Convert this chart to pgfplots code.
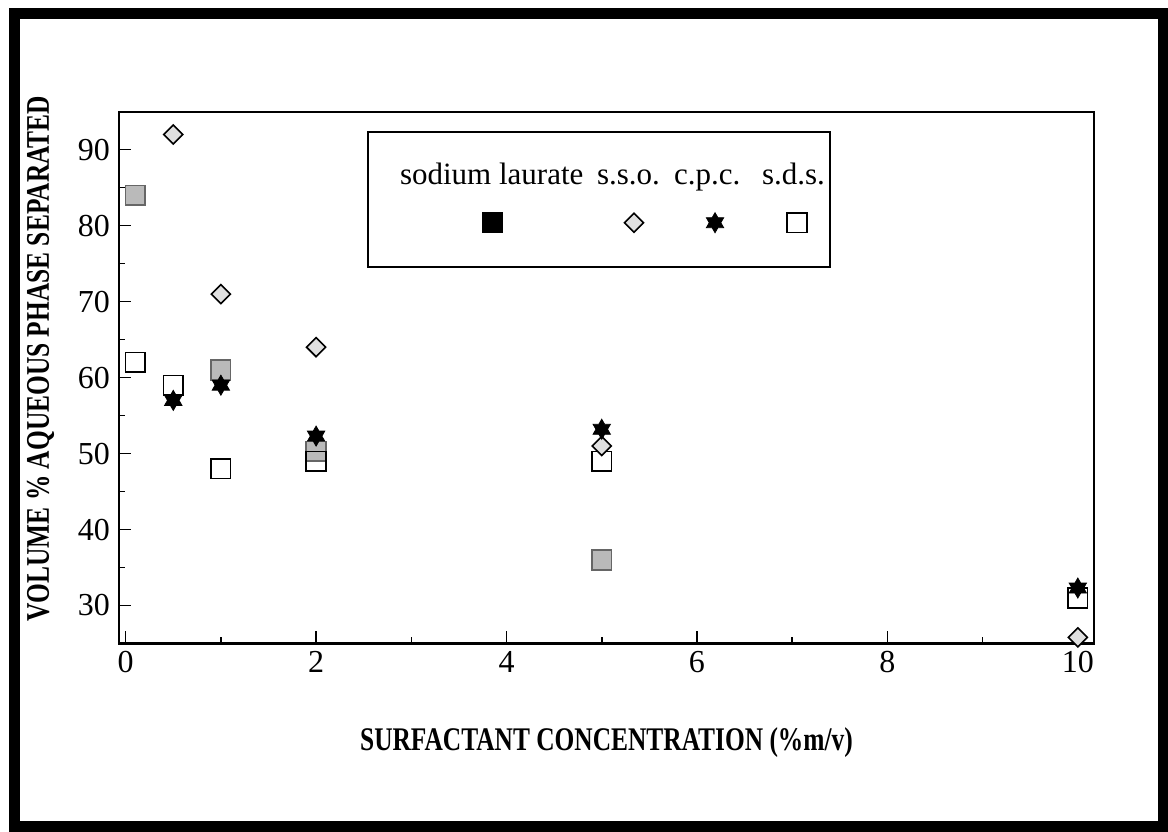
\documentclass[border=0pt]{standalone}
\usepackage{fontspec}
\setmainfont{Liberation Serif}
\newfontfamily\labelfont{Liberation Serif}[FakeStretch=0.77]
\usepackage{pgfplots}
\pgfplotsset{compat=1.18}

% filled six-pointed star
\pgfdeclareplotmark{hexstar}{%
  \pgfpathmoveto{\pgfpointpolar{90}{\pgfplotmarksize}}%
  \pgfpathlineto{\pgfpointpolar{120}{0.57735\pgfplotmarksize}}%
  \pgfpathlineto{\pgfpointpolar{150}{\pgfplotmarksize}}%
  \pgfpathlineto{\pgfpointpolar{180}{0.57735\pgfplotmarksize}}%
  \pgfpathlineto{\pgfpointpolar{210}{\pgfplotmarksize}}%
  \pgfpathlineto{\pgfpointpolar{240}{0.57735\pgfplotmarksize}}%
  \pgfpathlineto{\pgfpointpolar{270}{\pgfplotmarksize}}%
  \pgfpathlineto{\pgfpointpolar{300}{0.57735\pgfplotmarksize}}%
  \pgfpathlineto{\pgfpointpolar{330}{\pgfplotmarksize}}%
  \pgfpathlineto{\pgfpointpolar{0}{0.57735\pgfplotmarksize}}%
  \pgfpathlineto{\pgfpointpolar{30}{\pgfplotmarksize}}%
  \pgfpathlineto{\pgfpointpolar{60}{0.57735\pgfplotmarksize}}%
  \pgfpathclose
  \pgfusepathqfillstroke}

% legend samples sit below the centre of their names
\pgfplotsset{
  legA/.style={legend image code/.code={\path (0pt,0pt); \draw[overlay,##1] plot coordinates {(61.85pt,-11.6pt)};}},
  legB/.style={legend image code/.code={\path (0pt,0pt); \draw[overlay,##1] plot coordinates {(21.5pt,-11.6pt)};}},
  legC/.style={legend image code/.code={\path (0pt,0pt); \draw[overlay,##1] plot coordinates {(24.5pt,-11.6pt)};}},
  legD/.style={legend image code/.code={\path (0pt,0pt); \draw[overlay,##1] plot coordinates {(22.5pt,-11.6pt)};}},
}

\newcommand{\legcell}[3]{\makebox[#1][l]{\hspace*{#2}\rule[-41.5pt]{0pt}{67.5pt}#3}}

\begin{document}
\begin{tikzpicture}[x=1pt,y=1pt]
\useasboundingbox (0,0) rectangle (584,415.5);
\draw[line width=5.5pt] (7.25,2.5) rectangle (581.5,408.5);
\begin{axis}[
  at={(59.5pt,93.75pt)}, anchor=south west,
  scale only axis, width=487.5pt, height=265.9pt,
  xmin=-0.07, xmax=10.17, ymin=25, ymax=95,
  xtick={0,2,...,10}, minor xtick={1,3,5,7,9},
  ytick={30,40,...,90}, minor ytick={35,45,...,85},
  tick align=inside, xtick pos=bottom, ytick pos=left,
  major tick length=6pt, minor tick length=3pt,
  tick style={black, line width=0.8pt},
  axis line style={line width=1.1pt},
  tick label style={font=\fontsize{16}{19}\selectfont},
  /pgf/number format/assume math mode=true,
  xticklabel style={yshift=-0.5pt},
  yticklabel style={xshift=-1pt},
  label style={font=\fontsize{16.5}{19}\selectfont},
  xlabel={\labelfont\bfseries SURFACTANT CONCENTRATION (\%m/v)},
  ylabel={\labelfont\bfseries VOLUME \% AQUEOUS PHASE SEPARATED},
  x label style={at={(axis description cs:0.5,-0.1871)}, anchor=center},
  y label style={at={(axis description cs:-0.0805,0.536)}, anchor=center},
  clip=false,
  legend columns=4,
  legend style={at={(0.2544,0.9637)}, anchor=north west,
    draw=black, line width=1pt, fill=white,
    inner sep=0pt, column sep=0pt, row sep=0pt,
    nodes={inner sep=0pt, text depth=41.5pt},
    cells={anchor=west},
    font=\fontsize{15.5}{18}\selectfont},
]
% sodium laurate
\addplot[forget plot, only marks, mark=square*, mark size=4.9pt,
  mark options={fill=black!27, draw=black!60, line width=0.8pt}]
  coordinates {(0.1,84) (1,61) (2,50.3) (5,36)};
% s.d.s.
\addplot[forget plot, only marks, mark=square, mark size=4.9pt,
  mark options={draw=black, line width=0.8pt}]
  coordinates {(0.1,62) (0.5,59) (1,48) (2,49) (5,49) (10,31)};
% s.s.o.
\addplot[forget plot, only marks, mark=square*, mark size=3.36pt,
  mark options={rotate=45, fill=black!12, draw=black, line width=0.8pt}]
  coordinates {(0.5,92) (1,71) (2,64) (5,51) (10,25.8)};
% c.p.c.
\addplot[forget plot, only marks, mark=hexstar, mark size=5pt,
  mark options={fill=black, draw=black, line width=0.4pt}]
  coordinates {(0.5,57) (1,59) (2,52.3) (5,53.2) (10,32.3)};

\addlegendimage{only marks, mark=square*, mark size=4.9pt, mark options={fill=black, draw=black, line width=0.8pt}, legA}
\addlegendentry{\legcell{110pt}{15pt}{sodium laurate}}
\addlegendimage{only marks, mark=square*, mark size=3.36pt, mark options={rotate=45, fill=black!12, draw=black, line width=0.8pt}, legB}
\addlegendentry{\legcell{36.5pt}{2.5pt}{s.s.o.}}
\addlegendimage{only marks, mark=hexstar, mark size=5pt, mark options={fill=black, draw=black, line width=0.4pt}, legC}
\addlegendentry{\legcell{42pt}{3.5pt}{c.p.c.}}
\addlegendimage{only marks, mark=square, mark size=4.9pt, mark options={draw=black, line width=0.8pt}, legD}
\addlegendentry{\legcell{38.5pt}{4.5pt}{s.d.s.}}
\end{axis}
\end{tikzpicture}
\end{document}
